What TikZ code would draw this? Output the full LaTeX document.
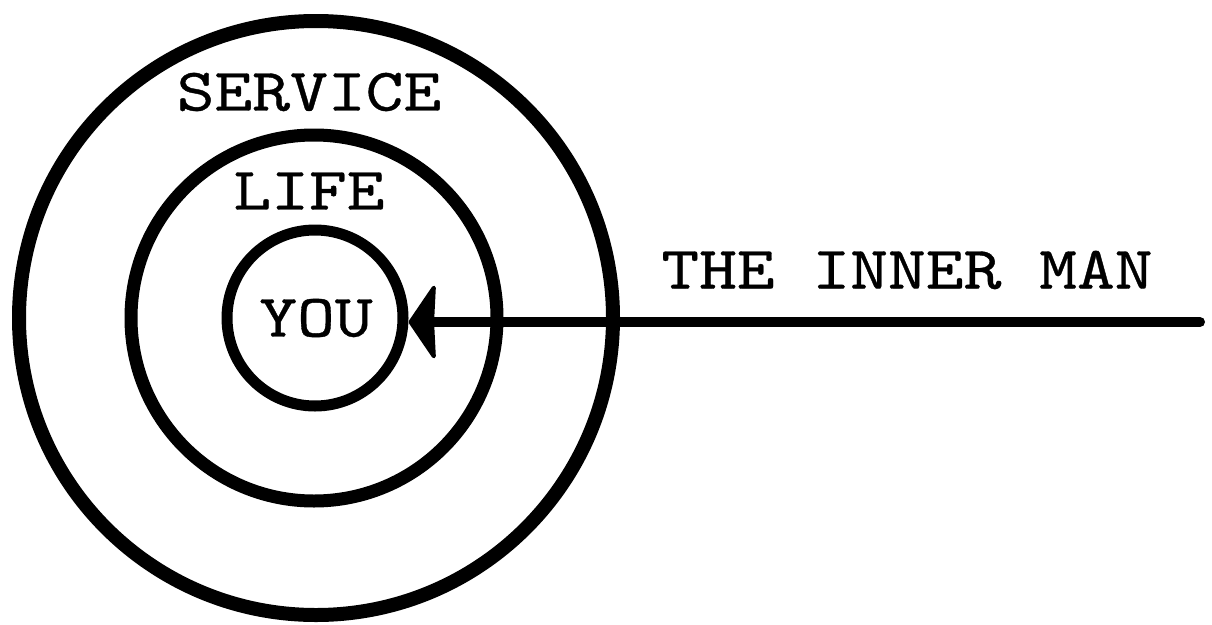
\documentclass[tikz,border=0pt]{standalone}
\usepackage{fontspec}
\newfontfamily\typewriter[FakeBold=0.6, FakeStretch=1.19]{lmmono10-regular.otf}
\usetikzlibrary{arrows.meta}
\tikzset{
  ring/.style={circle, draw=black, inner sep=0pt},
  label/.style={inner sep=0pt, font=\typewriter\fontsize{60.5}{60.5}\selectfont},
  shaft/.style={line width=10pt, line cap=round, -{Stealth[length=28pt, width=82pt, inset=2pt, round, line width=4pt]}}
}
\begin{document}
\begin{tikzpicture}[x=1pt,y=-1pt]
\useasboundingbox (0,0) rectangle (1212,624);
\node[ring, line width=14pt, minimum size=594pt] (outer) at (316,318) {};
\node[ring, line width=13pt, minimum size=366pt] (middle) at (314,318) {};
\node[ring, line width=11pt, minimum size=176pt] (inner) at (315,318) {};
\node[label] (service) at (309,92) {SERVICE};
\node[label] (life) at (309,191) {LIFE};
\node[label] (you) at (316,318) {YOU};
\node[label] (man) at (907,270) {THE INNER MAN};
\coordinate (start) at (1200,322);
\draw[shaft] (start) -- (start -| inner.east);
\end{tikzpicture}
\end{document}
